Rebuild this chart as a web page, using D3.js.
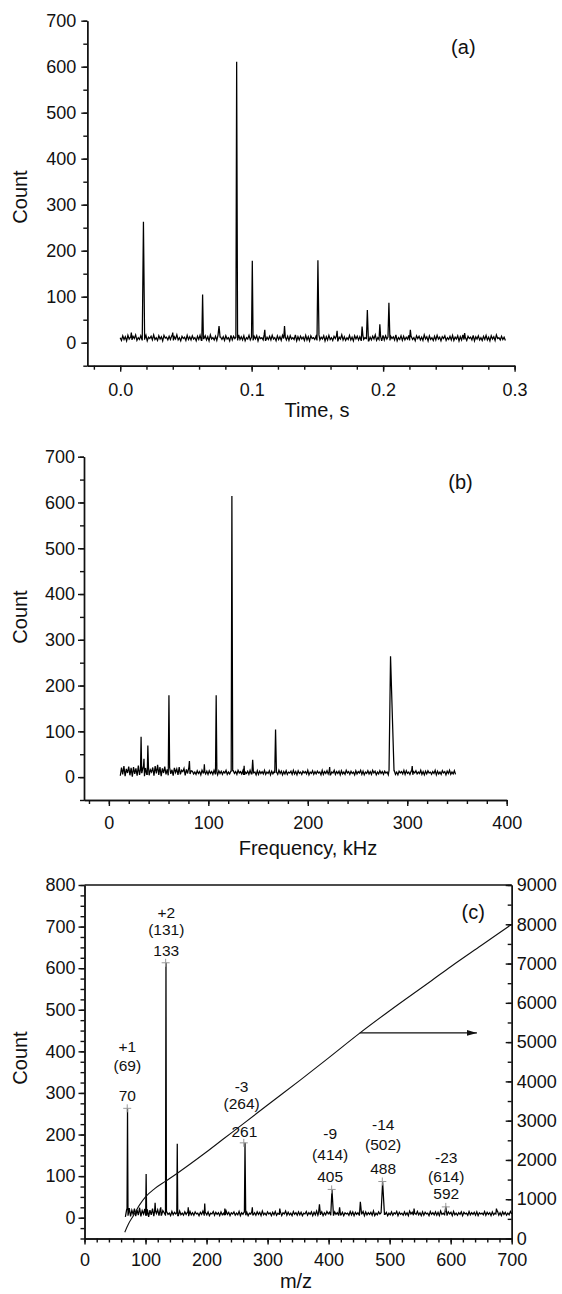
<!DOCTYPE html>
<html><head><meta charset="utf-8">
<script src="https://cdn.jsdelivr.net/npm/d3@7"></script>
<style>
body{margin:0;background:#fff}
svg{display:block;background:#fff}
text{font-family:"Liberation Sans",Arial,sans-serif;fill:#111}
.tk text{font-size:18px}
.ttl{font-size:20px}
.pl{font-size:20px}
.lab{font-size:15.5px}
.domain,.tick line{stroke:#111;stroke-width:1.4}
</style>
</head><body>
<svg id="chart" width="562" height="1294"></svg>
<script>
// ---------------- DATA ----------------
// (a) time-domain signal
const timeRange = [0.0, 0.293];
const timeBaseline = [
11,5,15,7,13,4,16,8,12,6,14,9,17,5,11,7,15,6,13,8,
16,4,12,9,14,6,17,7,11,5,15,8,13,4,16,10,12,6,14,7,
15,5,13,8,17,6,11,4,14,9,12,5,16,7,13,6,15,8,11,4,
14,7,16,5,12,9,15,6,13,4,17,8,11,6,14,5,16,9,12,7,
13,5,15,8,11,4,16,6,14,9,12,5,17,7,13,6,15,4,11,8,
16,6,12,5,14,8,15,4,13,9,11,6,17,5,12,7,14,6,16,8,
11,4,15,7,13,5,16,9,12,6,14,5,15,8,11,7,17,4,13,6,
14,8,12,5,16,6,13,4,15,9,11,7,14,5,17,6,12,8,15,4,
13,6,16,7,11,5,14,9,15,4,12,8,17,6,13,5,11,7,16,6,
12,4,15,8,14,6,13,5,16,7,11,9,15,4,12,6,14,8,17,5,
11,7,13,4,16,6,15,8,12,5,14,9,13,6,17,4,11,7,15,5,
14,6,12,8,16,5,13,7,11,4,15,9,14,6,12,5,17,8,13,4,
15,7,11,5,14,6,16,8,12,4,13,9,15,5,11,7,14,6,16,5,
12,8,15,4,13,6,17,7,11,5,14,9,12,6,16,4,13,8,15,6,
11,5,14,7,16,6,12,4,15,8,13,5,17,9,11,6,14,7,12,5];
// [time (s), count, left half-width, right half-width]
const timePeaks = [[0.0085,22,0.0005,0.0005],[0.0177,263,0.0009,0.0009],[0.040,22,0.0005,0.0005],[0.0627,105,0.0006,0.0006],[0.0752,36,0.0008,0.0008],[0.0886,611,0.0006,0.0007],[0.1005,178,0.0006,0.0006],[0.110,28,0.0005,0.0005],[0.125,36,0.0006,0.0006],[0.1504,179,0.0007,0.0008],[0.165,26,0.0005,0.0005],[0.184,35,0.0006,0.0006],[0.188,71,0.0007,0.0008],[0.1975,40,0.0006,0.0006],[0.2044,87,0.0007,0.0008],[0.2207,28,0.0006,0.0006],[0.262,21,0.0005,0.0005]];

// (b) frequency spectrum
const freqRange = [11.5, 348.6];
const freqBaseline = [
3,21,6,24,2,18,9,23,4,20,1,22,7,19,3,25,5,17,10,22,
2,20,6,23,4,16,11,21,3,24,8,18,5,22,2,19,9,23,6,17,
4,21,7,16,3,20,10,18,5,22,6,15,12,19,4,17,8,21,7,14,
13,7,11,6,14,8,12,5,15,9,11,7,13,6,14,8,12,6,15,7,
11,5,14,8,13,6,12,9,15,6,11,7,13,5,14,8,12,6,15,9,
12,7,14,5,11,8,13,6,15,7,12,9,11,5,14,6,13,8,12,7,
15,6,11,8,14,5,13,7,12,9,11,6,15,8,13,5,12,7,14,6,
11,9,13,6,15,7,12,5,14,8,11,6,13,9,12,7,15,5,11,8,
14,6,12,7,13,9,11,5,15,6,12,8,14,7,13,5,11,9,15,6,
12,8,13,5,14,7,11,6,15,9,12,6,13,8,11,5,14,7,12,9,
15,6,13,5,11,8,14,7,12,6,15,9,13,5,11,7,14,8,12,6,
13,9,11,5,15,7,12,8,14,6,11,5,13,9,12,7,15,6,14,8,
11,6,13,5,12,9,14,7,11,8,15,6,12,5,13,7,14,9,11,6,
12,8,15,5,13,7,11,6,14,9,12,5,13,8,15,6,11,7,14,6];
const freqPeaks = [[32.4,88,0.6,0.6],[35.3,40,0.5,0.5],[39.2,69,0.6,0.6],[49,27,0.5,0.5],[60.4,179,0.7,0.7],[81,35,0.6,0.6],[96,28,0.5,0.5],[107.9,179,0.7,0.7],[123.7,614,0.7,0.8],[136,25,0.5,0.5],[144.6,38,0.8,0.8],[167.6,104,0.8,0.9],[222,22,0.5,0.5],[283.2,264,1.5,3.5],[305,24,0.6,0.6]];

// (c) mass spectrum
const mzRange = [67, 700];
const mzBaseline = [
2,20,5,23,3,18,8,22,4,19,6,24,3,17,9,21,5,20,2,18,7,22,4,16,10,19,5,21,6,17,
12,6,14,8,11,5,15,7,13,9,12,5,16,7,11,6,14,8,13,5,
15,7,12,6,14,9,11,5,13,8,16,6,12,7,14,5,11,9,15,6,
13,8,12,5,14,7,11,6,16,8,13,5,12,9,14,6,11,7,15,5,
12,8,14,6,13,5,11,9,15,7,12,6,14,8,13,5,16,7,11,6,
14,9,12,5,13,7,15,6,11,8,14,5,12,9,16,6,13,7,11,5,
15,8,12,6,14,7,13,5,11,9,15,6,12,8,14,5,13,7,16,6,
11,8,14,5,12,7,15,9,13,6,11,5,14,8,12,6,16,7,13,5,
12,9,11,6,15,7,14,5,13,8,12,6,11,9,15,5,14,7,12,8,
13,6,16,5,11,7,14,9,12,6,15,8,13,5,11,7,14,6,12,9,
15,5,13,8,11,6,14,7,12,5,16,9,13,6,11,8,15,7,12,5,
14,6,13,9,11,5,15,8,12,7,14,6,13,5,16,8,11,7,12,6,
14,9,13,5,15,7,11,6,12,8,14,5,13,9,11,6,15,7,12,8,
13,6,14,5,12,9,11,7,15,6,13,8,12,5,14,7,11,9,16,6,
12,5,14,8,13,6,11,7,15,9];
const mzPeaks = [[70.5,263,0.8,0.8],[101,105,0.8,0.8],[115.7,36,0.8,0.8],[125,25,0.6,0.6],[133.5,613,0.8,0.8],[152,178,0.8,0.8],[170,25,0.7,0.7],[197,34,0.8,0.8],[230,22,0.7,0.7],[263,180,1.0,1.2],[275,25,0.8,0.8],[320,22,0.8,0.8],[385,32,1.5,1.5],[405.5,68,2,2.5],[418,25,1.5,1.5],[452,38,1.5,2],[488.5,86,2.5,3],[540,22,1,1],[592,27,2,2],[675,22,1,1]];

// calibration curve (right axis)
const curveMz  = [66,72,80,90,100,115,133,151,197,228,261,300,354,400,451,500,569,600,650,700];
const curveVal = [160,370,580,850,1060,1270,1460,1650,2170,2540,2930,3400,4040,4600,5230,5800,6570,6920,7460,8000];

// peak annotations
const annLine1 = ["+1","+2","-3","-9","-14","-23"];
const annLine2 = ["(69)","(131)","(264)","(414)","(502)","(614)"];
const annLine3 = ["70","133","261","405","488","592"];
const markerMz    = [70,133,261,405,488,592];
const markerCount = [263,613,180,68,87,26];

// tick values
const countTicks = [0,100,200,300,400,500,600,700];
const countTicksC = [0,100,200,300,400,500,600,700,800];
const timeTicks = [0.0,0.1,0.2,0.3];
const freqTicks = [0,100,200,300,400];
const mzTicks = [0,100,200,300,400,500,600,700];
const rightTicks = [0,1000,2000,3000,4000,5000,6000,7000,8000,9000];

// ---------------- DRAW ----------------
const svg = d3.select("#chart");

function series(range, base, peaks){
  const n = base.length, step = (range[1]-range[0])/(n-1);
  let pts = base.map((v,i)=>[range[0]+i*step, v]);
  const near = x => base[Math.max(0,Math.min(n-1,Math.round((x-range[0])/step)))];
  peaks.forEach(([c,h,wl,wr])=>{
    pts = pts.filter(p => p[0] < c-wl || p[0] > c+wr);
    pts.push([c-wl, near(c-wl)],[c,h],[c+wr, near(c+wr)]);
  });
  pts.sort((a,b)=>a[0]-b[0]);
  return pts;
}

function minorVals(lo, hi, step){
  const out=[]; for(let k=Math.ceil(lo/step-1e-9); k*step<=hi+1e-9; k++) out.push(+(k*step).toFixed(6)); return out;
}

function axes(x, y, xMaj, xMinStep, yMaj, yMinStep, xFmt, xPad, yPad){
  const x0 = x.range()[0], y0 = y.range()[0];
  svg.append("g").attr("class","tk").attr("transform",`translate(0,${y0})`)
    .call(d3.axisBottom(x).tickValues(minorVals(x.domain()[0],x.domain()[1],xMinStep)).tickFormat("").tickSize(4).tickSizeOuter(0));
  svg.append("g").attr("class","tk").attr("transform",`translate(0,${y0})`)
    .call(d3.axisBottom(x).tickValues(xMaj).tickFormat(xFmt).tickSize(6).tickPadding(xPad).tickSizeOuter(0));
  svg.append("g").attr("class","tk").attr("transform",`translate(${x0},0)`)
    .call(d3.axisLeft(y).tickValues(minorVals(y.domain()[0],y.domain()[1],yMinStep)).tickFormat("").tickSize(4).tickSizeOuter(0));
  svg.append("g").attr("class","tk").attr("transform",`translate(${x0},0)`)
    .call(d3.axisLeft(y).tickValues(yMaj).tickFormat(d3.format("d")).tickSize(6).tickPadding(yPad).tickSizeOuter(0));
}

function drawLine(x, y, pts){
  svg.append("path").datum(pts)
    .attr("fill","none").attr("stroke","#000").attr("stroke-width",1.25).attr("stroke-linejoin","miter")
    .attr("d", d3.line().x(d=>x(d[0])).y(d=>y(d[1])));
}

function title(txt, x, y, rot){
  const t = svg.append("text").attr("class","ttl").attr("text-anchor","middle").attr("dy","0.35em").text(txt);
  if(rot) t.attr("transform",`translate(${x},${y}) rotate(-90)`); else t.attr("x",x).attr("y",y);
}

// ----- Panel (a)
const xA = d3.scaleLinear().domain([-0.025,0.3]).range([87.3,514.6]);
const yA = d3.scaleLinear().domain([-50,700]).range([365.7,20.7]);
axes(xA, yA, timeTicks, 0.02, countTicks, 50, d3.format(".1f"), 12, 5);
drawLine(xA, yA, series(timeRange, timeBaseline, timePeaks));
title("Count", 20, 197, true);
title("Time, s", 317, 410, false);
svg.append("text").attr("class","pl").attr("text-anchor","middle").attr("dy","0.35em")
  .attr("x", xA(0.261)).attr("y", yA(643)).text("(a)");

// ----- Panel (b)
const xB = d3.scaleLinear().domain([-25,400]).range([84,506.7]);
const yB = d3.scaleLinear().domain([-50,700]).range([800,456.7]);
axes(xB, yB, freqTicks, 20, countTicks, 50, d3.format("d"), 10, 3);
drawLine(xB, yB, series(freqRange, freqBaseline, freqPeaks));
title("Count", 20, 617, true);
title("Frequency, kHz", 308, 848, false);
svg.append("text").attr("class","pl").attr("text-anchor","middle").attr("dy","0.35em")
  .attr("x", xB(353.6)).attr("y", yB(644)).text("(b)");

// ----- Panel (c)
const xC = d3.scaleLinear().domain([0,700]).range([84.5,511.7]);
const yC = d3.scaleLinear().domain([-50,800]).range([1238.5,885]);
const yR = d3.scaleLinear().domain([0,9000]).range([1238.5,885]);
axes(xC, yC, mzTicks, 20, countTicksC, 25, d3.format("d"), 9, 3);
// top frame line
svg.append("line").attr("x1",xC.range()[0]).attr("x2",xC.range()[1]).attr("y1",yC.range()[1]).attr("y2",yC.range()[1])
  .attr("stroke","#111").attr("stroke-width",1.4);
// right axis (inward ticks)
svg.append("g").attr("class","tk").attr("transform",`translate(${xC.range()[1]},0)`)
  .call(d3.axisRight(yR).tickValues(minorVals(0,9000,500)).tickFormat("").tickSizeInner(-4).tickSizeOuter(0));
svg.append("g").attr("class","tk").attr("transform",`translate(${xC.range()[1]},0)`)
  .call(d3.axisRight(yR).tickValues(rightTicks).tickFormat(d3.format("d")).tickSizeInner(-6).tickPadding(5).tickSizeOuter(0));

drawLine(xC, yC, series(mzRange, mzBaseline, mzPeaks));

// calibration curve
svg.append("path").datum(curveMz.map((m,i)=>[m,curveVal[i]]))
  .attr("fill","none").attr("stroke","#111").attr("stroke-width",1.1)
  .attr("d", d3.line().x(d=>xC(d[0])).y(d=>yR(d[1])).curve(d3.curveMonotoneX));

// arrow
svg.append("defs").append("marker").attr("id","ah").attr("viewBox","0 0 10 10").attr("refX",10).attr("refY",5)
  .attr("markerWidth",10).attr("markerHeight",10).attr("markerUnits","userSpaceOnUse").attr("orient","auto")
  .append("path").attr("d","M0,2.2L10,5L0,7.8Z").attr("fill","#111");
svg.append("line").attr("x1",xC(451)).attr("x2",xC(643)).attr("y1",yR(5235)).attr("y2",yR(5235))
  .attr("stroke","#111").attr("stroke-width",1.2).attr("marker-end","url(#ah)");

// markers
markerMz.forEach((m,i)=>{
  const cx = xC(m), cy = yC(markerCount[i]);
  svg.append("path").attr("d",`M${cx-4},${cy}H${cx+4}M${cx},${cy-4}V${cy+4}`)
    .attr("stroke","#999").attr("stroke-width",1);
});

// annotation labels (layout: centre m/z and count level of each text line)
const annLayout = [
  {x:70.2,  y:[411,366,293]},
  {x:134,   y:[734,693,642]},
  {x:257.4, y:[315,275,208], x3:262},
  {x:402.6, y:[203,152,99]},
  {x:489.4, y:[224,175,119]},
  {x:592.7, y:[145,100,57]}
];
annLayout.forEach((L,i)=>{
  [annLine1[i],annLine2[i],annLine3[i]].forEach((t,j)=>{
    svg.append("text").attr("class","lab").attr("text-anchor","middle").attr("dy","0.35em")
      .attr("x", xC(j===2 && L.x3 ? L.x3 : L.x)).attr("y", yC(L.y[j])).text(t);
  });
});

title("Count", 20, 1058, true);
title("m/z", 296, 1281, false);
svg.append("text").attr("class","pl").attr("text-anchor","middle").attr("dy","0.35em")
  .attr("x", xC(637)).attr("y", yC(735)).text("(c)");
</script>
</body></html>
